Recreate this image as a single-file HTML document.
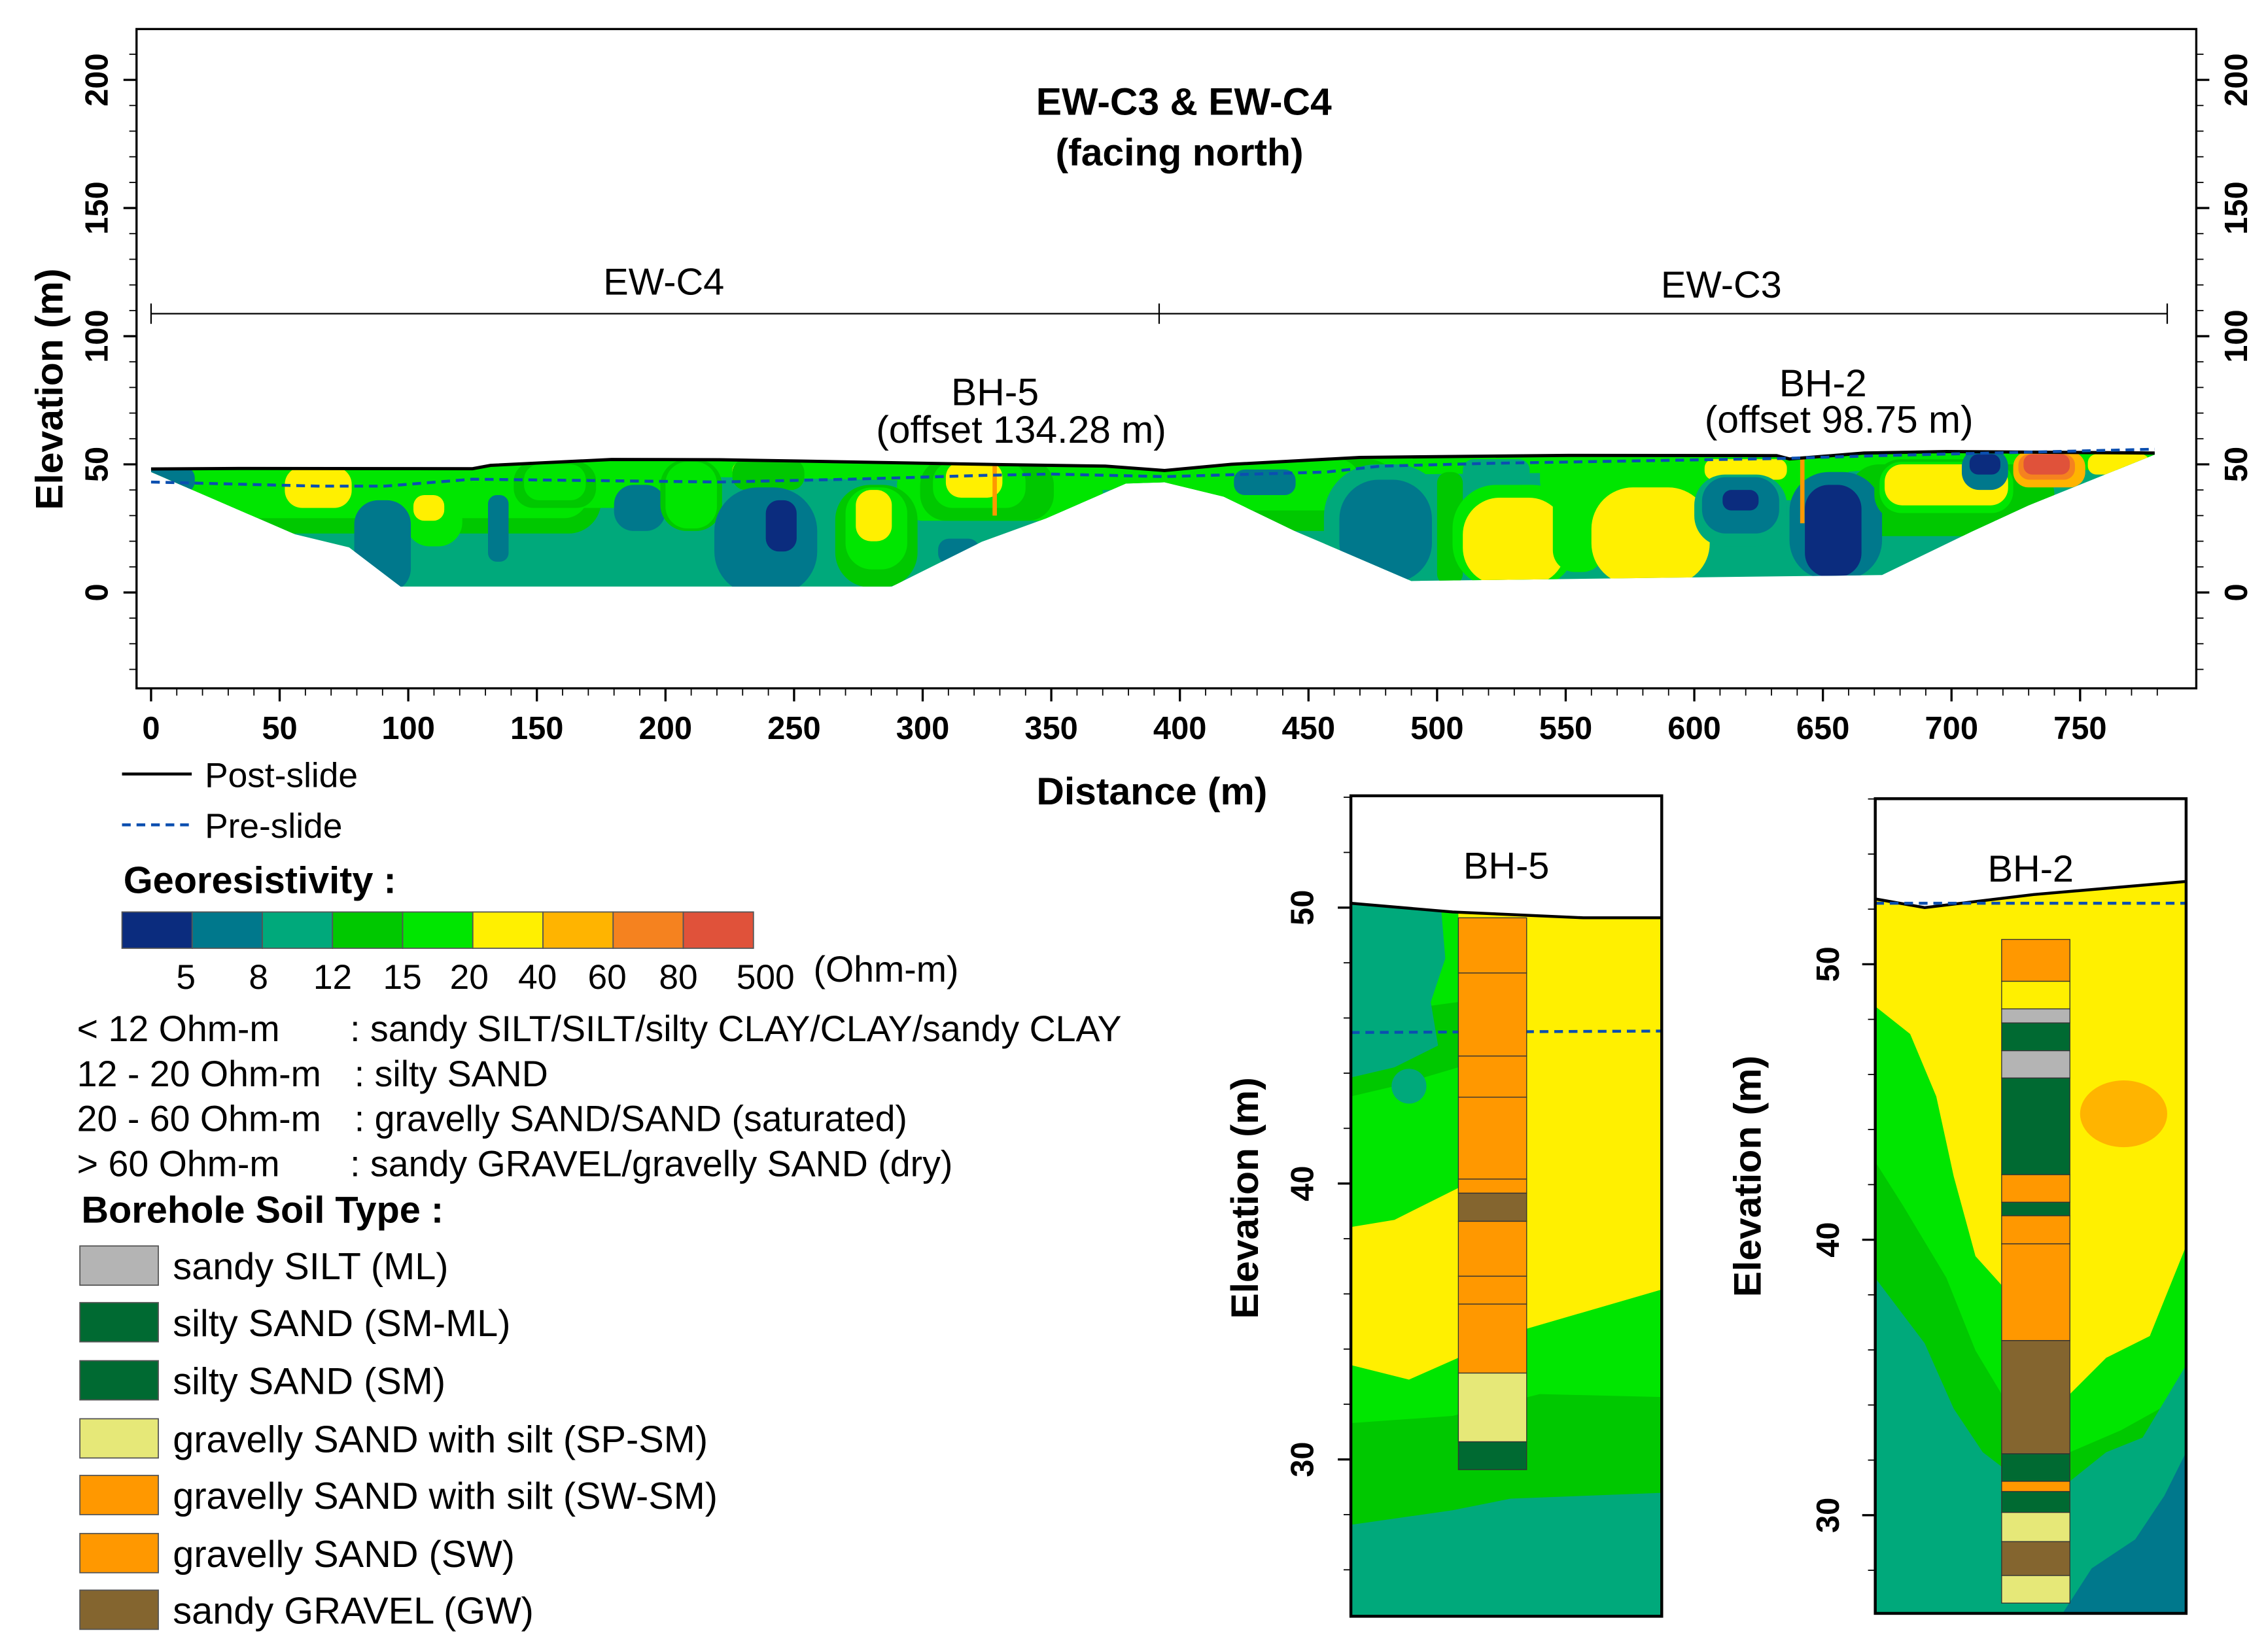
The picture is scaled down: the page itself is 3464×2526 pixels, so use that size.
<!DOCTYPE html>
<html><head><meta charset="utf-8"><style>
html,body{margin:0;padding:0;background:#fff;}
svg{display:block;}
text{font-family:"Liberation Sans",Arial,sans-serif;fill:#000;}
</style></head><body>
<svg id="fig" width="3464" height="2526" viewBox="0 0 1560 1137.6" preserveAspectRatio="none" xmlns="http://www.w3.org/2000/svg">
<defs>
<clipPath id="secClip"><polygon id="secPoly" points=""/></clipPath>
<clipPath id="bh5Clip"><rect x="930" y="548" width="214" height="565"/></clipPath>
<clipPath id="bh2Clip"><rect x="1291" y="550" width="214" height="561"/></clipPath>
</defs>
<rect x="0" y="0" width="1560" height="1137.6" fill="#fff"/>
<g id="main"></g>
<g id="legend"></g>
<g id="bh5"></g>
<g id="bh2"></g>
</svg>
<script>
// ---- data ----
const surfDist = [0,34,125,132,179,221,252,324,371,394,420,470,551,632,637,666,698,779];
const surfElev = [48.2,48.4,48.3,49.6,51.9,51.8,51.3,50.0,49.3,47.6,50.0,52.7,53.5,53.4,52.1,54.4,55.0,54.4];
const preDist = [0,65,91,125,221,272,324,350,394,457,478,521,634,672,779];
const preElev = [43.1,41.5,41.5,44.2,43.1,44.2,45.7,46.2,45.2,47.0,49.3,50.4,52.3,53.4,55.9];
const baseDist = [779,730,708,673,490,461,445,417,394,379,348,323,288,97,77,56,0];
const baseElev = [53.8,34,23.8,6.8,4.5,17,23.8,37.4,43,42.5,28.9,19.8,2.3,2.3,17.6,22.7,47];
const resColors = ["#0b2c7e","#00788c","#00a97b","#00c800","#00e600","#fff000","#ffb400","#f5821f","#e0523a"];
const resLabels = ["5","8","12","15","20","40","60","80","500"];
const blobD = [90,90,175,330,440,430,600,700,
  8,65,110,108,90,135,157,157,190,210,210,232,240,239,245,282,282,281,325,322,320,314,365,
  433,480,480,505,530,530,523,555,583,580,620,618,618,618,655,654,698,698,698,713,713,738,737,737,765];
const blobE = [38,40,42,40,38,42,45,36,
  44,41,30,33,18,25,42,43,33,38,38,47,46,20,26,22,25,30,40,42,44,16,44,
  43,26,24,25,22,20,47,30,22,47,48,32,34,36,26,24,40,41,42,48,50,48,49,50,50];
const blobW = [85,80,25,40,45,40,60,40,
  9,13,11,6,11,4,16,12,10,12,10,6,14,20,6,16,12,7,26,18,11,8,14,
  12,24,18,5,24,20,13,10,23,10,16,18,15,7,18,11,28,26,24,9,6,14,11,9,12];
const blobH = [15,11,9,12,14,10,9,14,
  5,8,12,5,18,13,9,7,9,14,13,4,6,21,10,20,16,10,12,9,7,5,4,
  5,24,20,22,20,17,5,22,19,5,4,14,11,4,21,18,12,10,8,8,4,7,5,4,4];
const blobC = [3,4,4,4,3,4,4,3,
  1,5,4,5,1,1,3,4,1,3,4,5,3,1,0,3,4,5,3,4,5,1,4,
  1,2,1,3,4,5,2,4,5,4,5,2,1,0,1,0,3,4,5,1,0,6,7,8,5];
const xTicks = [0,50,100,150,200,250,300,350,400,450,500,550,600,650,700,750];
const yTicks = [0,50,100,150,200];
const soilNames = ["sandy SILT (ML)","silty SAND (SM-ML)","silty SAND (SM)","gravelly SAND with silt (SP-SM)","gravelly SAND with silt (SW-SM)","gravelly SAND (SW)","sandy GRAVEL (GW)"];
const soilColors = ["#b4b4b4","#006a32","#006a32","#e6e878","#ff9800","#ff9800","#84652f"];
const bh5Top = [49.63,47.63,44.62,43.13,40.16,39.65,38.63,36.64,35.63,33.13,30.64];
const bh5Bot = [47.63,44.62,43.13,40.16,39.65,38.63,36.64,35.63,33.13,30.64,29.63];
const bh5Col = ["#ff9800","#ff9800","#ff9800","#ff9800","#ff9800","#84652f","#ff9800","#ff9800","#ff9800","#e6e878","#006a32"];
const bh2Top = [50.90,49.38,48.38,47.87,46.86,45.87,42.36,41.36,40.87,39.85,36.34,32.23,31.23,30.86,30.10,29.04,27.81];
const bh2Bot = [49.38,48.38,47.87,46.86,45.87,42.36,41.36,40.87,39.85,36.34,32.23,31.23,30.86,30.10,29.04,27.81,26.81];
const bh2Col = ["#ff9800","#fff000","#b4b4b4","#006a32","#b4b4b4","#006a32","#ff9800","#006a32","#ff9800","#ff9800","#84652f","#006a32","#ff9800","#006a32","#e6e878","#84652f","#e6e878"];

// ---- helpers ----
const NS="http://www.w3.org/2000/svg";
function mk(parent,tag,attrs,txt){const e=document.createElementNS(NS,tag);for(const k in attrs)e.setAttribute(k,attrs[k]);if(txt!==undefined)e.textContent=txt;parent.appendChild(e);return e;}
const px=d=>104+d*1.7707, py=e=>408-e*1.765;
const main=document.getElementById('main');

let pts=surfDist.map((d,i)=>px(d)+","+py(surfElev[i]));
baseDist.forEach((d,i)=>pts.push(px(d)+","+py(baseElev[i])));
document.getElementById('secPoly').setAttribute('points',pts.join(' '));
const sec=mk(main,'g',{'clip-path':'url(#secClip)'});


mk(sec,'rect',{x:90,y:300,width:1420,height:120,fill:resColors[2]});
// green band under surface
const band=mk(sec,'polygon',{points:surfDist.map((d,i)=>px(d)+","+(py(surfElev[i])-5)).join(' ')+' '+surfDist.slice().reverse().map((d,i,a)=>px(d)+","+(py(surfElev[surfDist.length-1-i])+12)).join(' '),fill:resColors[4]});


blobD.forEach((d,i)=>{
  const w=blobW[i]*1.7707, h=blobH[i]*1.765;
  const r=Math.min(w,h)*0.85;
  const el=mk(sec,'rect',{x:px(d)-w,y:py(blobE[i])-h,width:2*w,height:2*h,rx:r,ry:r,fill:resColors[blobC[i]]});
  
  
});
[[328,50,30],[642,52,27]].forEach(b=>{
  const r=mk(main,'rect',{x:px(b[0])-1.5,y:py(b[1]),width:3,height:(b[1]-b[2])*1.765,fill:"#ff9800"});
  
  
});
const post=mk(main,'polyline',{points:surfDist.map((d,i)=>px(d)+","+py(surfElev[i])).join(' '),fill:'none',stroke:'#000','stroke-width':2.2});


const pre=mk(main,'polyline',{points:preDist.map((d,i)=>px(d)+","+py(preElev[i])).join(' '),fill:'none',stroke:'#0b4fb0','stroke-width':2,'stroke-dasharray':'6,4'});


const fr=mk(main,'rect',{x:94,y:20,width:1418,height:454,fill:'none',stroke:'#000','stroke-width':1.5});


for(let v=-30;v<=210;v+=10){const y=py(v);if(y<21||y>473)continue;const major=v%50===0;
  mk(main,'line',{x1:94,x2:94-(major?9:5),y1:y,y2:y,stroke:'#000','stroke-width':major?1.5:0.8});
  mk(main,'line',{x1:1512,x2:1512+(major?9:5),y1:y,y2:y,stroke:'#000','stroke-width':major?1.5:0.8});}
yTicks.forEach(v=>{const y=py(v);
  const t=mk(main,'text',{x:0,y:0,transform:`translate(74,${y}) rotate(-90)`,'text-anchor':'middle','font-size':22,'font-weight':'bold'},String(v));
  
  
  const t2=mk(main,'text',{x:0,y:0,transform:`translate(1547,${y}) rotate(-90)`,'text-anchor':'middle','font-size':22,'font-weight':'bold'},String(v));
  
  
});
for(let v=0;v<=780;v+=10){const x=px(v);const major=v%50===0;mk(main,'line',{x1:x,x2:x,y1:474,y2:474+(major?9:5),stroke:'#000','stroke-width':major?1.5:0.8});}
xTicks.forEach(v=>{const t=mk(main,'text',{x:px(v),y:509,'text-anchor':'middle','font-size':22,'font-weight':'bold'},String(v));
  
  });
let t;
t=mk(main,'text',{x:815,y:79,'text-anchor':'middle','font-size':26.5,'font-weight':'bold'},'EW-C3 & EW-C4');


t=mk(main,'text',{x:812,y:114,'text-anchor':'middle','font-size':26.5,'font-weight':'bold'},'(facing north)');


t=mk(main,'text',{x:793,y:554,'text-anchor':'middle','font-size':26.5,'font-weight':'bold'},'Distance (m)');


t=mk(main,'text',{x:0,y:0,transform:'translate(43,268) rotate(-90)','text-anchor':'middle','font-size':26.5,'font-weight':'bold'},'Elevation (m)');


mk(main,'line',{x1:104,x2:1492,y1:216,y2:216,stroke:'#000','stroke-width':1});
[104,798,1492].forEach(x=>mk(main,'line',{x1:x,x2:x,y1:209,y2:223,stroke:'#000','stroke-width':1}));
t=mk(main,'text',{x:457,y:203,'text-anchor':'middle','font-size':26},'EW-C4');


t=mk(main,'text',{x:1185,y:205,'text-anchor':'middle','font-size':26},'EW-C3');


t=mk(main,'text',{x:685,y:279,'text-anchor':'middle','font-size':26.5},'BH-5');


t=mk(main,'text',{x:703,y:305,'text-anchor':'middle','font-size':26.5},'(offset 134.28 m)');


t=mk(main,'text',{x:1255,y:273,'text-anchor':'middle','font-size':26.5},'BH-2');


t=mk(main,'text',{x:1266,y:298,'text-anchor':'middle','font-size':26.5},'(offset 98.75 m)');



// ---- legend ----
const lg=document.getElementById('legend');
mk(lg,'line',{x1:84,x2:132,y1:533,y2:533,stroke:'#000','stroke-width':2});
t=mk(lg,'text',{x:141,y:542,'font-size':24},'Post-slide');


mk(lg,'line',{x1:84,x2:132,y1:568,y2:568,stroke:'#0b4fb0','stroke-width':2,'stroke-dasharray':'6,4'});
t=mk(lg,'text',{x:141,y:577,'font-size':24},'Pre-slide');


t=mk(lg,'text',{x:85,y:615,'font-size':26,'font-weight':'bold'},'Georesistivity :');


resColors.forEach((c,i)=>{const r=mk(lg,'rect',{x:84+i*48.3,y:628,width:48.3,height:25,fill:c,stroke:'#555','stroke-width':0.8});
  
  
  const tl=mk(lg,'text',{x:[128,178,229,277,323,370,418,467,527][i],y:681,'text-anchor':'middle','font-size':24},resLabels[i]);
  
  });
t=mk(lg,'text',{x:560,y:676,'font-size':25},'(Ohm-m)');


const desc=[["< 12 Ohm-m",": sandy SILT/SILT/silty CLAY/CLAY/sandy CLAY",717,241],["12 - 20 Ohm-m",": silty SAND",748,244],["20 - 60 Ohm-m",": gravelly SAND/SAND (saturated)",779,244],["> 60 Ohm-m",": sandy GRAVEL/gravelly SAND (dry)",810,241]];
desc.forEach(d=>{const a=mk(lg,'text',{x:53,y:d[2],'font-size':25},d[0]);
  
  
  const b=mk(lg,'text',{x:d[3],y:d[2],'font-size':25},d[1]);
  
  });
t=mk(lg,'text',{x:56,y:842,'font-size':26,'font-weight':'bold'},'Borehole Soil Type :');


const swY=[858,897,937,977,1016,1056,1095];
soilNames.forEach((n,i)=>{const r=mk(lg,'rect',{x:55,y:swY[i],width:54,height:27,fill:soilColors[i],stroke:'#555','stroke-width':0.8});
  
  
  const tx=mk(lg,'text',{x:119,y:swY[i]+23,'font-size':26},n);
  
  });

// ---- borehole panels ----
function panel(g,clip,x0,x1,yTop,yBot,e50,pxm,title,colX,tops,bots,cols,shapes,ground,dashY,tickX,labX,labY){
  const yy=e=>e50+(50-e)*pxm;
  const c=mk(g,'g',{'clip-path':`url(#${clip})`});
  shapes.forEach(s=>{const p=mk(c,s[0],s[1]);
    
    });
  mk(c,'polygon',{points:`${x0},${yTop} ${x1},${yTop} `+ground.slice().reverse().join(' '),fill:'#fff'});
  mk(c,'polyline',{points:ground.join(' '),fill:'none',stroke:'#000','stroke-width':2});
  mk(c,'line',{x1:x0,x2:x1,y1:dashY[0],y2:dashY[1],stroke:'#0b4fb0','stroke-width':2,'stroke-dasharray':'6,4'});
  tops.forEach((tp,i)=>{const r=mk(g,'rect',{x:colX,y:yy(tp),width:47,height:(tp-bots[i])*pxm,fill:cols[i],stroke:'#333','stroke-width':0.6});
    
    });
  mk(g,'rect',{x:x0,y:yTop,width:x1-x0,height:yBot-yTop,fill:'none',stroke:'#000','stroke-width':2});
  const tt=mk(g,'text',{x:(x0+x1)/2,y:yTop+57,'text-anchor':'middle','font-size':26},title);
  
  
  for(let v=24;v<=56;v+=2){const y=yy(v);if(y<yTop||y>yBot)continue;const major=v%10===0;
    mk(g,'line',{x1:x0,x2:x0-(major?9:5),y1:y,y2:y,stroke:'#000','stroke-width':major?1.5:0.8});}
  [30,40,50].forEach(v=>{const tl=mk(g,'text',{x:0,y:0,transform:`translate(${tickX},${yy(v)}) rotate(-90)`,'text-anchor':'middle','font-size':22,'font-weight':'bold'},String(v));
    
    });
  const yl=mk(g,'text',{x:0,y:0,transform:`translate(${labX},${labY}) rotate(-90)`,'text-anchor':'middle','font-size':26.5,'font-weight':'bold'},'Elevation (m)');
  
  
}
const C=resColors;
panel(document.getElementById('bh5'),'bh5Clip',930,1144,548,1113,625,19,'BH-5',1004,bh5Top,bh5Bot,bh5Col,[
 ['rect',{x:930,y:600,width:214,height:520,fill:C[2]}],
 ['polygon',{points:'930,600 1144,600 1144,1028 1040,1032 1000,1040 930,1050',fill:C[3]}],
 ['polygon',{points:'930,600 1144,600 1144,962 1060,960 1000,975 930,980',fill:C[4]}],
 ['polygon',{points:'930,755 960,748 1004,735 1004,690 930,700',fill:C[3]}],
 ['polygon',{points:'930,600 990,600 995,660 985,690 990,720 960,735 930,742',fill:C[2]}],
 ['circle',{cx:970,cy:748,r:12,fill:C[2]}],
 ['polygon',{points:'1004,600 1144,600 1144,888 1051,915 1004,935 970,950 930,940 930,845 960,840 1004,818',fill:C[5]}]
],['930,622','1000,628','1090,632','1144,632'],[711,710],904,866,825);
panel(document.getElementById('bh2'),'bh2Clip',1291,1505,550,1111,664,18.97,'BH-2',1378,bh2Top,bh2Bot,bh2Col,[
 ['rect',{x:1291,y:600,width:214,height:520,fill:C[5]}],
 ['polygon',{points:'1291,693 1315,712 1333,755 1345,810 1360,865 1378,885 1425,960 1450,935 1480,920 1505,858 1505,1111 1291,1111',fill:C[4]}],
 ['polygon',{points:'1291,800 1310,830 1340,880 1360,930 1378,960 1425,1000 1460,985 1505,960 1505,1111 1291,1111',fill:C[3]}],
 ['polygon',{points:'1291,880 1325,925 1345,970 1365,1000 1378,1010 1425,1020 1450,1000 1475,990 1505,940 1505,1111 1291,1111',fill:C[2]}],
 ['polygon',{points:'1420,1111 1440,1080 1470,1060 1490,1030 1505,1000 1505,1111',fill:C[1]}],
 ['ellipse',{cx:1462,cy:767,rx:30,ry:23,fill:C[6]}]
],['1291,619','1325,625','1400,616','1505,607'],[622,622],1266,1212,810);
</script>
</body></html>
